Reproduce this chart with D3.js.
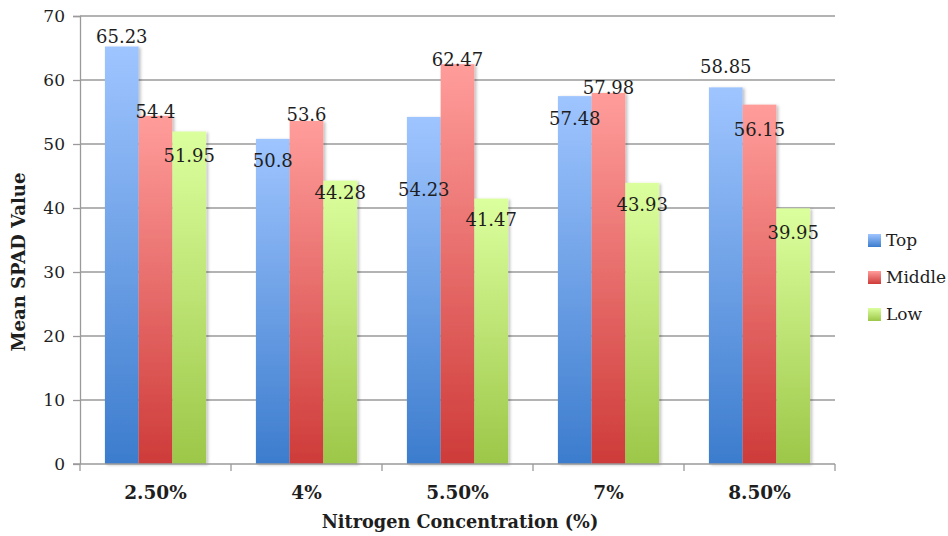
<!DOCTYPE html>
<html>
<head>
<meta charset="utf-8">
<script src="https://cdn.jsdelivr.net/npm/d3@7"></script>
<style>
  html, body { margin: 0; padding: 0; background: #fff; }
  svg { display: block; }
  text { font-family: "DejaVu Serif", "Liberation Serif", serif; fill: #1e1e1e; }
</style>
</head>
<body>
<svg id="chart" width="948" height="536"></svg>
<script>
// Mean SPAD readings by leaf position at each nitrogen concentration
const categories = ["2.50%", "4%", "5.50%", "7%", "8.50%"];
const seriesNames = ["Top", "Middle", "Low"];
const topValues    = [65.23, 50.8, 54.23, 57.48, 58.85];
const middleValues = [54.4, 53.6, 62.47, 57.98, 56.15];
const lowValues    = [51.95, 44.28, 41.47, 43.93, 39.95];
const yTicks = [0, 10, 20, 30, 40, 50, 60, 70];

const seriesValues = [topValues, middleValues, lowValues];

// vertical nudge (px) of each value label from its bar's top, per series
const labelNudge = [
  [-10, 22, 73, 23, -21],
  [-4, -6, -4, -5, 25],
  [24, 12, 21, 22, 24]
];

const colors = [
  { light: "#9fc5ff", dark: "#3c7ccd" },
  { light: "#ff9d9b", dark: "#ce3b39" },
  { light: "#dcff9e", dark: "#9cc748" }
];

const svg = d3.select("#chart");
const margin = { left: 80, right: 113, top: 16, bottom: 72 };
const width = 948 - margin.left - margin.right;
const height = 536 - margin.top - margin.bottom;

const defs = svg.append("defs");
colors.forEach((c, i) => {
  const g = defs.append("linearGradient")
    .attr("id", "grad" + i)
    .attr("x1", 0).attr("y1", 0).attr("x2", 0).attr("y2", 1);
  g.append("stop").attr("offset", "0%").attr("stop-color", c.light);
  g.append("stop").attr("offset", "100%").attr("stop-color", c.dark);
});
const shadow = defs.append("filter").attr("id", "shadow")
  .attr("x", "-20%").attr("y", "-5%").attr("width", "150%").attr("height", "115%");
shadow.append("feDropShadow")
  .attr("dx", 2).attr("dy", 1).attr("stdDeviation", 1.5)
  .attr("flood-color", "#000").attr("flood-opacity", 0.25);

const g = svg.append("g").attr("transform", `translate(${margin.left},${margin.top})`);

const x0 = d3.scaleBand().domain(categories).range([0, width]).paddingInner(0.33).paddingOuter(0.165);
const x1 = d3.scaleBand().domain(seriesNames).range([0, x0.bandwidth()]);
const y = d3.scaleLinear().domain([0, 70]).range([height, 0]);
const xEdges = d3.scaleLinear().domain([0, categories.length]).range([0, width]);

// horizontal gridlines
g.append("g")
  .selectAll("line")
  .data(yTicks.filter(t => t > 0))
  .join("line")
  .attr("x1", 0).attr("x2", width)
  .attr("y1", d => y(d)).attr("y2", d => y(d))
  .attr("stroke", "#9a9a9a").attr("stroke-width", 1.3);

// bars
const groups = g.append("g").selectAll("g")
  .data(categories)
  .join("g")
  .attr("transform", d => `translate(${x0(d)},0)`);

groups.selectAll("rect")
  .data((d, ci) => seriesNames.map((s, si) => ({ s, si, ci, v: seriesValues[si][ci] })))
  .join("rect")
  .attr("x", d => x1(d.s))
  .attr("width", x1.bandwidth())
  .attr("y", d => y(d.v))
  .attr("height", d => y(0) - y(d.v))
  .attr("fill", d => `url(#grad${d.si})`)
  .attr("filter", "url(#shadow)");

// y axis
const yAxis = g.append("g")
  .call(d3.axisLeft(y).tickValues(yTicks).tickSize(7).tickPadding(8).tickFormat(d3.format("d")));
yAxis.select(".domain").attr("stroke", "#9a9a9a").attr("stroke-width", 1.3).attr("d", `M-7,0.5H0.5V${height}`);
yAxis.selectAll(".tick line").attr("stroke", "#9a9a9a").attr("stroke-width", 1.3);
yAxis.selectAll(".tick text").attr("font-size", 17).attr("fill", "#1e1e1e")
  .attr("font-family", "DejaVu Serif");

// x axis line with boundary ticks
const xAxis = g.append("g").attr("transform", `translate(0,${height})`);
xAxis.append("line").attr("x1", -7).attr("x2", width).attr("y1", 0).attr("y2", 0)
  .attr("stroke", "#9a9a9a").attr("stroke-width", 1.3);
xAxis.selectAll("line.edge")
  .data(d3.range(categories.length + 1))
  .join("line").attr("class", "edge")
  .attr("x1", d => xEdges(d)).attr("x2", d => xEdges(d))
  .attr("y1", 0).attr("y2", 7)
  .attr("stroke", "#9a9a9a").attr("stroke-width", 1.3);
xAxis.selectAll("text.cat")
  .data(categories)
  .join("text").attr("class", "cat")
  .attr("x", d => x0(d) + x0.bandwidth() / 2)
  .attr("y", 35)
  .attr("text-anchor", "middle")
  .attr("font-size", 18.5).attr("font-weight", "bold")
  .text(d => d);

// value labels
groups.selectAll("text.val")
  .data((d, ci) => seriesNames.map((s, si) => ({ s, si, ci, v: seriesValues[si][ci] })))
  .join("text").attr("class", "val")
  .attr("x", d => x1(d.s) + x1.bandwidth() / 2)
  .attr("y", d => y(d.v) + labelNudge[d.si][d.ci])
  .attr("dy", "0.35em")
  .attr("text-anchor", "middle")
  .attr("font-size", 18)
  .text(d => d.v);

// axis titles
svg.append("text")
  .attr("transform", `translate(25,262) rotate(-90)`)
  .attr("text-anchor", "middle")
  .attr("font-size", 18).attr("font-weight", "bold")
  .text("Mean SPAD Value");
svg.append("text")
  .attr("x", 460).attr("y", 528)
  .attr("text-anchor", "middle")
  .attr("font-size", 17.7).attr("font-weight", "bold")
  .text("Nitrogen Concentration (%)");

// legend
const legend = svg.append("g").attr("transform", "translate(868,240)");
seriesNames.forEach((s, i) => {
  const row = legend.append("g").attr("transform", `translate(0,${i * 37})`);
  row.append("rect").attr("x", 0).attr("y", -6).attr("width", 13).attr("height", 13)
    .attr("fill", `url(#grad${i})`);
  row.append("text").attr("x", 18).attr("y", 0).attr("dy", "0.35em")
    .attr("font-size", 17).text(s);
});
</script>
</body>
</html>
